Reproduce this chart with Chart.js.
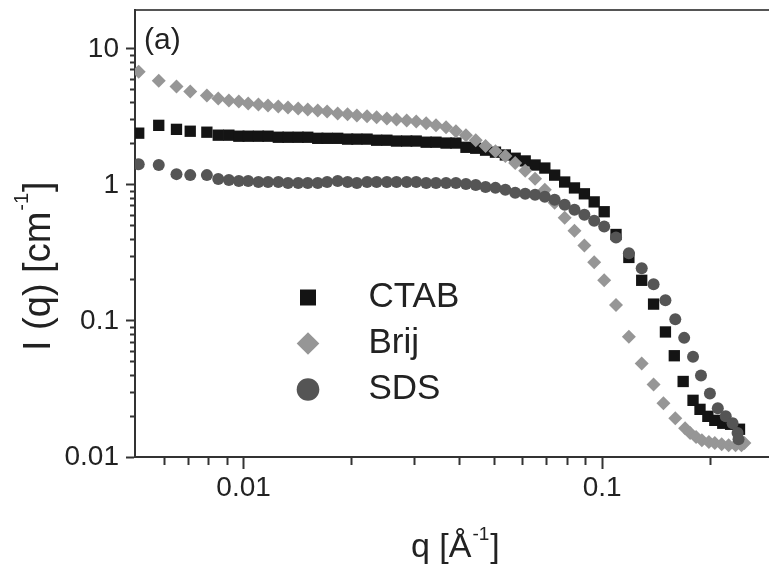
<!DOCTYPE html>
<html lang="en">
<head>
<meta charset="UTF-8">
<title>I(q) vs q</title>
<script src="https://cdn.jsdelivr.net/npm/chart.js@4.4.1/dist/chart.umd.min.js"></script>
<style>
    html, body { margin: 0; padding: 0; background: #fff; }
    #wrap { position: relative; width: 776px; height: 568px; }
</style>
</head>
<body>
<div id="wrap"><canvas id="chart"></canvas></div>
<script>
    // values
    const qLow = [0.0051, 0.0058, 0.0065, 0.0071, 0.0079, 0.0085, 0.0091, 0.0097, 0.0103, 0.0110,
                  0.0117, 0.0125, 0.0133, 0.0142, 0.0151, 0.0161, 0.0171, 0.0183, 0.0195, 0.0207,
                  0.0221, 0.0235, 0.0251, 0.0267, 0.0285, 0.0303, 0.0323, 0.0344, 0.0367, 0.0391,
                  0.0417, 0.0444, 0.0473, 0.0504, 0.0537, 0.0572, 0.0610, 0.0650, 0.0692, 0.0737,
                  0.0786, 0.0837, 0.0892, 0.0950, 0.1013];

    const ctabLow = [2.40, 2.74, 2.56, 2.48, 2.44, 2.32, 2.32, 2.28, 2.28, 2.28,
                     2.28, 2.24, 2.24, 2.24, 2.24, 2.20, 2.20, 2.20, 2.17, 2.17,
                     2.17, 2.13, 2.13, 2.10, 2.10, 2.10, 2.06, 2.06, 2.03, 2.03,
                     1.89, 1.86, 1.80, 1.74, 1.66, 1.57, 1.50, 1.40, 1.33, 1.18,
                     1.05, 0.95, 0.86, 0.75, 0.635];
    const brijLow = [6.80, 5.84, 5.28, 4.86, 4.54, 4.32, 4.17, 4.10, 3.97, 3.90,
                     3.84, 3.77, 3.71, 3.65, 3.59, 3.53, 3.47, 3.35, 3.30, 3.24,
                     3.19, 3.14, 3.08, 3.03, 2.98, 2.93, 2.84, 2.74, 2.65, 2.48,
                     2.32, 2.13, 1.93, 1.77, 1.63, 1.45, 1.27, 1.11, 0.92, 0.74,
                     0.574, 0.461, 0.359, 0.270, 0.199];
    const sdsLow = [1.42, 1.40, 1.20, 1.18, 1.18, 1.106, 1.088, 1.069, 1.069, 1.052,
                    1.052, 1.052, 1.034, 1.034, 1.034, 1.034, 1.052, 1.069, 1.052, 1.034,
                    1.052, 1.052, 1.052, 1.052, 1.052, 1.052, 1.034, 1.034, 1.034, 1.034,
                    1.017, 1.000, 0.967, 0.951, 0.920, 0.874, 0.860, 0.845, 0.818, 0.777,
                    0.714, 0.657, 0.604, 0.546, 0.494];

    const qHighCtab = [0.1093, 0.1187, 0.1289, 0.1391, 0.1501, 0.1589, 0.1682, 0.1792, 0.1874, 0.1971,
                       0.2061, 0.2169, 0.2281, 0.2415];
    const ctabHigh = [0.432, 0.293, 0.199, 0.133, 0.083, 0.0555, 0.0359, 0.0261, 0.0224, 0.0199,
                      0.0186, 0.0177, 0.0174, 0.0160];

    const qHighBrij = [0.1093, 0.1187, 0.1289, 0.1391, 0.1482, 0.1599, 0.1703, 0.1759, 0.1827, 0.1897,
                       0.1984, 0.2061, 0.2154, 0.2252, 0.2355, 0.2445, 0.2492];
    const brijHigh = [0.131, 0.0764, 0.0486, 0.0341, 0.0248, 0.0193, 0.0163, 0.0150, 0.0140, 0.0133,
                      0.0129, 0.0127, 0.0124, 0.0122, 0.0122, 0.0122, 0.0127];

    const qHighSds = [0.1093, 0.1187, 0.1289, 0.1391, 0.1501, 0.1599, 0.1693, 0.1792, 0.1886, 0.1997,
                      0.2101, 0.2211, 0.2310, 0.2385, 0.2400];
    const sdsHigh = [0.410, 0.314, 0.244, 0.186, 0.142, 0.103, 0.0751, 0.0546, 0.0397, 0.0293,
                     0.0228, 0.0199, 0.0177, 0.0150, 0.0135];

    const xMajor = [0.01, 0.1];
    const xMinor = [0.006, 0.007, 0.008, 0.009, 0.02, 0.03, 0.04, 0.05, 0.06, 0.07, 0.08, 0.09, 0.2];
    const yMajor = [0.01, 0.1, 1, 10];
    const yMinor = [0.02, 0.03, 0.04, 0.05, 0.06, 0.07, 0.08, 0.09,
                    0.2, 0.3, 0.4, 0.5, 0.6, 0.7, 0.8, 0.9,
                    2, 3, 4, 5, 6, 7, 8, 9];

    const FONT = "'Liberation Sans', Arial, sans-serif";
    const INK = '#222';
    const AXIS = '#333';
    const X_MIN = 0.00498, X_MAX = 0.29;
    const Y_MIN = 0.01, Y_MAX = 19.3;

    function pts(qs, vals) {
        return qs.map((q, i) => ({ x: q, y: vals[i] }));
    }

    function noPadding(s) {
        s.paddingTop = 0;
        s.paddingBottom = 0;
        s.paddingLeft = 0;
        s.paddingRight = 0;
    }

    // axis titles with superscripts and the panel label
    const titlesPlugin = {
        id: 'titles',
        afterDraw(chart) {
            const ctx = chart.ctx;
            ctx.save();
            ctx.fillStyle = INK;
            ctx.textAlign = 'left';
            ctx.textBaseline = 'alphabetic';

            ctx.font = '30px ' + FONT;
            ctx.fillText('(a)', 144, 49);

            let x = 411;
            ctx.font = '34px ' + FONT;
            ctx.fillText('q [Å', x, 557);
            x += ctx.measureText('q [Å').width;
            ctx.font = '19px ' + FONT;
            ctx.fillText('-1', x + 1, 540);
            x += ctx.measureText('-1').width + 2;
            ctx.font = '34px ' + FONT;
            ctx.fillText(']', x, 557);

            ctx.translate(50, 351);
            ctx.rotate(-Math.PI / 2);
            ctx.font = '38px ' + FONT;
            ctx.fillText('I (q) [cm', 0, 0);
            let w = ctx.measureText('I (q) [cm').width;
            ctx.font = '20px ' + FONT;
            ctx.fillText('-1', w + 1, -22);
            w += ctx.measureText('-1').width + 2;
            ctx.font = '38px ' + FONT;
            ctx.fillText(']', w, 0);
            ctx.restore();
        }
    };

    // put the legend inside the plot, left of centre
    const legendPlace = {
        id: 'legendPlace',
        afterLayout(chart) {
            const lg = chart.legend;
            lg.left = 289;
            lg.top = 269;
            lg.width = 240;
            lg.height = 180;
            lg.right = lg.left + lg.width;
            lg.bottom = lg.top + lg.height;
        }
    };

    const tickFont = { family: FONT, size: 28 };

    new Chart(document.getElementById('chart'), {
        type: 'scatter',
        data: {
            datasets: [
                {
                    label: 'CTAB',
                    data: pts(qLow, ctabLow).concat(pts(qHighCtab, ctabHigh)),
                    pointStyle: 'rect',
                    pointRadius: 8,
                    pointBorderWidth: 0,
                    backgroundColor: '#141414',
                    borderColor: '#141414',
                    order: 3
                },
                {
                    label: 'Brij',
                    data: pts(qLow, brijLow).concat(pts(qHighBrij, brijHigh)),
                    pointStyle: 'rectRot',
                    pointRadius: 7,
                    pointBorderWidth: 0,
                    backgroundColor: '#969696',
                    borderColor: '#969696',
                    order: 2
                },
                {
                    label: 'SDS',
                    data: pts(qLow, sdsLow).concat(pts(qHighSds, sdsHigh)),
                    pointStyle: 'circle',
                    pointRadius: 6,
                    pointBorderWidth: 0,
                    backgroundColor: '#555555',
                    borderColor: '#555555',
                    order: 1
                }
            ]
        },
        options: {
            responsive: true,
            maintainAspectRatio: false,
            animation: false,
            events: [],
            layout: { padding: { top: 10, right: 0, bottom: 0, left: 0 } },
            plugins: {
                tooltip: { enabled: false },
                legend: {
                    position: 'chartArea',
                    align: 'start',
                    labels: {
                        usePointStyle: true,
                        boxWidth: 16,
                        boxHeight: 16,
                        padding: 11,
                        color: INK,
                        font: { family: FONT, size: 35 },
                        generateLabels(chart) {
                            const items = Chart.defaults.plugins.legend.labels.generateLabels(chart);
                            items.sort((a, b) => a.datasetIndex - b.datasetIndex);
                            items.forEach(it => { it.text = '\u2002\u2002' + it.text; });
                            return items;
                        }
                    }
                }
            },
            scales: {
                x: {
                    type: 'logarithmic',
                    position: 'bottom',
                    min: X_MIN,
                    max: X_MAX,
                    afterBuildTicks: s => {
                        s.ticks = xMajor.concat(xMinor).sort((a, b) => a - b).map(v => ({ value: v }));
                    },
                    afterFit: s => { s.height = 111; noPadding(s); },
                    ticks: {
                        autoSkip: false,
                        maxRotation: 0,
                        padding: 2,
                        color: INK,
                        font: tickFont,
                        callback: v => xMajor.includes(v) ? String(v) : ''
                    },
                    grid: {
                        display: true,
                        drawOnChartArea: false,
                        drawTicks: true,
                        tickLength: 12,
                        tickWidth: 2,
                        tickColor: AXIS,
                        // minor ticks: only the first 7px from the axis
                        tickBorderDash: c => xMajor.includes(c.tick.value) ? [] : [7, 30]
                    },
                    border: { display: true, color: AXIS, width: 2 }
                },
                xTop: {
                    type: 'logarithmic',
                    position: 'top',
                    min: X_MIN,
                    max: X_MAX,
                    afterFit: s => { s.height = 0; noPadding(s); },
                    ticks: { display: false },
                    grid: { display: false, drawTicks: false },
                    border: { display: true, color: '#555', width: 2 }
                },
                y: {
                    type: 'logarithmic',
                    position: 'left',
                    min: Y_MIN,
                    max: Y_MAX,
                    afterBuildTicks: s => {
                        s.ticks = yMajor.concat(yMinor).sort((a, b) => a - b).map(v => ({ value: v }));
                    },
                    afterFit: s => { s.width = 135; noPadding(s); },
                    ticks: {
                        autoSkip: false,
                        padding: 7,
                        color: INK,
                        font: tickFont,
                        callback: v => yMajor.includes(v) ? String(v) : ''
                    },
                    grid: {
                        display: true,
                        drawOnChartArea: false,
                        drawTicks: true,
                        tickLength: 9,
                        tickWidth: 2,
                        tickColor: AXIS,
                        // left ticks are drawn from the outer end: skip 4px, draw 5px
                        tickBorderDash: c => yMajor.includes(c.tick.value) ? [] : [0, 4, 5, 30]
                    },
                    border: { display: true, color: AXIS, width: 2 }
                }
            }
        },
        plugins: [legendPlace, titlesPlugin]
    });
</script>
</body>
</html>
